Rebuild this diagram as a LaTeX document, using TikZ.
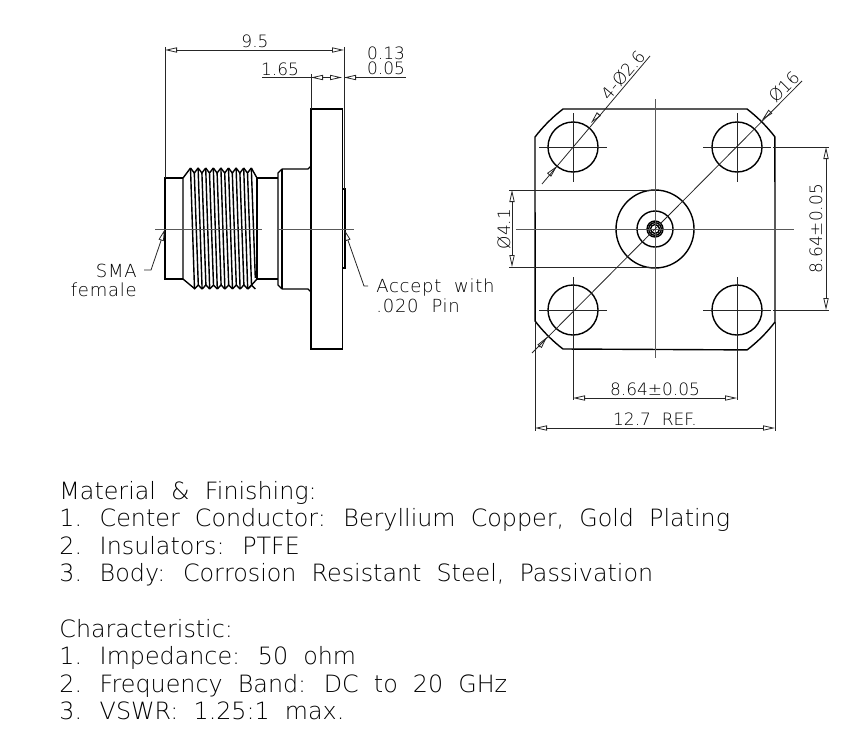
\documentclass[tikz,border=0pt]{standalone}
\usepackage{fontspec}
\setmainfont{DejaVu Sans ExtraLight}
\usetikzlibrary{arrows.meta}
\usetikzlibrary{positioning}
\definecolor{cadgray}{gray}{0.35}
\tikzset{
outline/.style={line width=0.7pt, black},
thinline/.style={line width=0.4pt, black!85},
centerline/.style={line width=0.5pt, cadgray},
dimarrow/.style={thinline, {Triangle[open,length=6pt,width=2.6pt]}-{Triangle[open,length=6pt,width=2.6pt]}},
tiparrow/.style={thinline, {Triangle[open,length=6pt,width=2.6pt]}-},
label/.style={inner sep=0pt, font=\fontsize{8.5}{10}\selectfont},
leadtext/.style={inner sep=0pt, font=\fontsize{9}{11}\selectfont\addfontfeature{LetterSpace=4}},
notes/.style={inner sep=0pt, anchor=base west, font=\fontsize{11.9}{14}\selectfont}
}
\begin{document}
\begin{tikzpicture}[x=0.5pt,y=-0.5pt]
\useasboundingbox (0,0) rectangle (854,733);

% side view
\coordinate (bodyL) at (165,229);
\coordinate (plateR) at (344,229);
\draw[outline] (183,178) -- (165,178) -- (165,279) -- (183,279);
\draw[outline] (257,178) -- (278,178);
\draw[outline] (257,279) -- (278,279);
\draw[outline] (183,279) -- (183,178) -- (190.5,168);
\draw[outline] (257,178) -- (257,279);
\draw[outline] (257,178) -- (251.3,168);
\draw[outline] (183,279) -- (195,289);
\draw[outline] (257,279) -- (248,289);
\foreach \x in {190.5,198.1,...,244} {
\draw[outline] (\x,168) -- (\x+3.8,173) -- (\x+7.6,168);
\draw[outline] (\x+4,289) -- (\x+7.8,285) -- (\x+11.6,289);
\draw[outline] (\x,168) -- (\x+4,289);
\draw[outline] (\x+3.8,173) -- (\x+7.8,285);
}
\draw[outline] (251.3,168) -- (255.3,278);
\draw[outline] (282,169) -- (278,173) -- (278,285) -- (282,289);
\draw[outline] (282,169) -- (282,289);
\draw[outline] (282,169) -- (308,169) -- (311,166);
\draw[outline] (282,289) -- (308,289) -- (311,292);
\draw[outline] (311,109) rectangle (342.5,349);
\draw[outline] (342.5,189) rectangle (345,268);

% center lines
\draw[centerline] (155,229) -- (262,229);
\draw[centerline] (277,229) -- (354,229);

% side dimensions
\coordinate (ext95) at (165,47);
\coordinate (ext95R) at (344,47);
\draw[thinline] (ext95) -- (165,178);
\draw[thinline] (ext95R) -- (344,189);
\draw[thinline] (311,74) -- (311,109);
\draw[dimarrow] (165,50) -- (344,50);
\draw[thinline] (262,77.5) -- (311,77.5);
\draw[thinline] (323,77.5) -- (330,77.5);
\draw[thinline] (357,77.5) -- (406,77.5);
\draw[tiparrow] (311,77.5) -- (323,77.5);
\draw[tiparrow] (342,77.5) -- (330,77.5);
\draw[tiparrow] (344,77.5) -- (357,77.5);
\node[label] (dimA) at (255,41) {9.5};
\node[label] (dimB) at (280,69) {1.65};
\node[label] (dimC) at (386,53.5) {0.13};
\node[label] (dimD) at (386,68.5) {0.05};

% leaders
\node[leadtext, anchor=base east] (sma) at (137,277) {SMA};
\node[leadtext, anchor=base east] (fem) at (137,296) {female};
\node[leadtext, anchor=base west] (acc) at (376,292) {Accept \ with};
\node[leadtext, anchor=base west] (pin) at (376,312) {.020 \ Pin};
\draw[tiparrow] (bodyL) -- (151,270) -- (144,270);
\draw[tiparrow] (plateR) -- (364,286) -- (368,286);

% front view
\coordinate (c) at (655,229);
\draw[outline] (563,109) -- (747,109) arc[start angle=-52.5, end angle=-37.5, radius=151.2]
-- (775,322) arc[start angle=37.5, end angle=52.5, radius=151.2]
-- (563,349) arc[start angle=127.5, end angle=142.5, radius=151.2]
-- (535,137) arc[start angle=-142.5, end angle=-127.5, radius=151.2] -- cycle;
\foreach \x/\y in {573/147,737/147,573/310,737/310} {
\draw[outline] (\x,\y) circle (25);
\draw[thinline] (\x-34,\y) -- (\x+34,\y);
}
\foreach \x in {573,737} {
\draw[thinline] (\x,113) -- (\x,182);
\draw[thinline] (\x,277) -- (\x,400);
}
\draw[outline] (c) circle (39);
\draw[outline] (c) circle (18);
\draw[outline] (c) circle (8);
\draw[outline] (c) circle (6.3);
\draw[outline] (c) circle (4.5);
\draw[centerline] (655,99) -- (655,358);
\draw[centerline] (516,229) -- (794,229);

% front dimensions
\draw[thinline] (509,190) -- (655,190);
\draw[thinline] (509,267) -- (655,267);
\draw[dimarrow] (512,190) -- (512,267);
\draw[thinline] (773,147) -- (829,147);
\draw[thinline] (773,310) -- (829,310);
\draw[dimarrow] (826,147) -- (826,310);
\draw[thinline] (535,322) -- (535,431);
\draw[thinline] (775,322) -- (775,431);
\draw[dimarrow] (573,398) -- (737,398);
\draw[dimarrow] (535,428) -- (775,428);
\node[label, rotate=90] (dimE) at (504,229) {Ø4.1};
\node[label, rotate=90] (dimF) at (816,229) {8.64±0.05};
\node[label] (dimG) at (655,389.5) {8.64±0.05};
\node[label] (dimH) at (655,419) {12.7 \ REF.};

% diagonal leaders
\draw[thinline] (532,353) -- (802,81);
\draw[thinline] (542,184) -- (650,56);
\draw[tiparrow] (762,120) -- (770,112);
\draw[tiparrow] (547,337) -- (539,347);
\draw[tiparrow] (591,123) -- (598,115);
\draw[tiparrow] (557,166) -- (549,175);
\node[label, rotate=45] (dimJ) at (784,87) {Ø16};
\node[label, rotate=50] (dimK) at (623,75) {4-Ø2.6};

% notes
\node[notes] (n1) at (59,499) {Material \ \& \ Finishing:};
\node[notes] (n2) at (59,526.5) {1. \ Center \ Conductor: \ Beryllium \ Copper, \ Gold \ Plating};
\node[notes] (n3) at (59,554) {2. \ Insulators: \ PTFE};
\node[notes] (n4) at (59,581.5) {3. \ Body: \ Corrosion \ Resistant \ Steel, \ Passivation};
\node[notes] (n5) at (59,637) {Characteristic:};
\node[notes] (n6) at (59,664) {1. \ Impedance: \ 50 \ ohm};
\node[notes] (n7) at (59,692) {2. \ Frequency \ Band: \ DC \ to \ 20 \ GHz};
\node[notes] (n8) at (59,719) {3. \ VSWR: \ 1.25:1 \ max.};
\end{tikzpicture}
\end{document}
